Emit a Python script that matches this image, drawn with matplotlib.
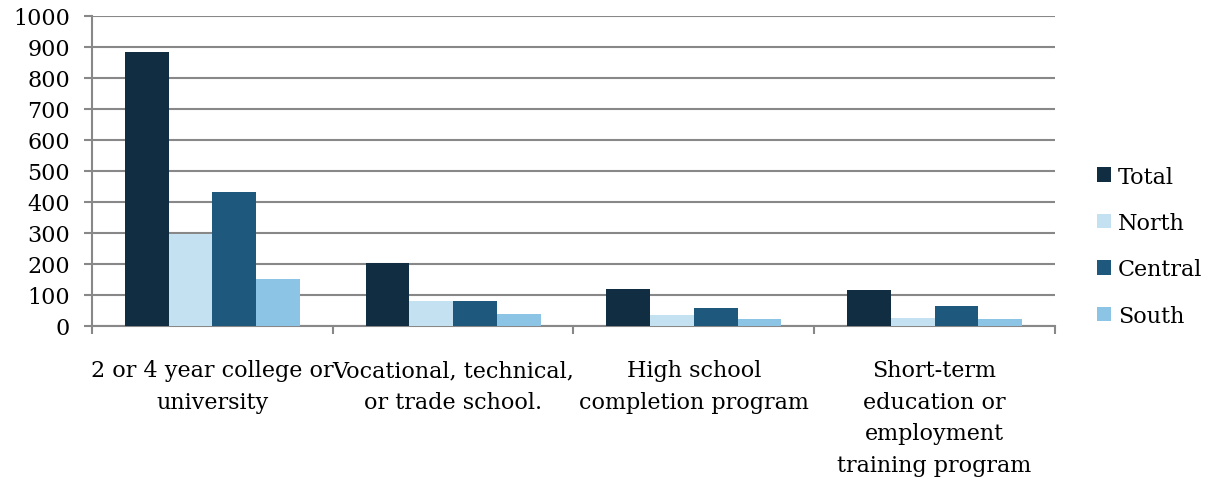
import matplotlib
matplotlib.use("Agg")
import matplotlib.pyplot as plt
import numpy as np

categories = ["2 or 4 year college or\nuniversity",
              "Vocational, technical,\nor trade school.",
              "High school\ncompletion program",
              "Short-term\neducation or\nemployment\ntraining program"]
series_names = ["Total", "North", "Central", "South"]
total = [884, 204, 120, 116]
north = [298, 82, 36, 26]
central = [433, 82, 59, 66]
south = [150, 39, 24, 21]
colors = ["#112d41", "#c4e1f2", "#1e587c", "#8cc4e6"]

plt.rcParams['font.family'] = ['DejaVu Serif']
fig = plt.figure(figsize=(12.08, 4.81), dpi=100)
ax = fig.add_axes([0.0762, 0.3202, 0.8733 - 0.0762, 0.9647 - 0.3202])

x = np.arange(len(categories))
w = 0.727 / 4
data = [total, north, central, south]
for i, (name, vals, c) in enumerate(zip(series_names, data, colors)):
    ax.bar(x + (i - 1.5) * w, vals, w, color=c, label=name, zorder=3)

ax.set_xlim(-0.5, 3.5)
ax.set_ylim(0, 1000)
ax.set_yticks(np.arange(0, 1001, 100))
ax.grid(axis='y', color='#888888', linewidth=1.5, zorder=0)
ax.set_axisbelow(True)
for s in ['top', 'right']:
    ax.spines[s].set_visible(False)
for s in ['left', 'bottom']:
    ax.spines[s].set_color('#888888')
    ax.spines[s].set_linewidth(1.5)
ax.tick_params(axis='y', length=6, width=1.5, color='#888888', labelsize=16, pad=10)
ax.set_xticks(x)
ax.set_xticklabels(categories, fontsize=16, linespacing=1.56)
ax.tick_params(axis='x', which='major', length=0, pad=24)
ax.set_xticks(np.arange(-0.5, 3.6, 1), minor=True)
ax.tick_params(axis='x', which='minor', length=6, width=1.5, color='#888888')

leg = ax.legend(loc='center left', bbox_to_anchor=(0.8916, 0.486), bbox_transform=fig.transFigure,
                frameon=False, fontsize=16, handlelength=0.63, handleheight=0.63,
                handletextpad=0.3, labelspacing=1.1)

fig.savefig("out.png", dpi=100)
